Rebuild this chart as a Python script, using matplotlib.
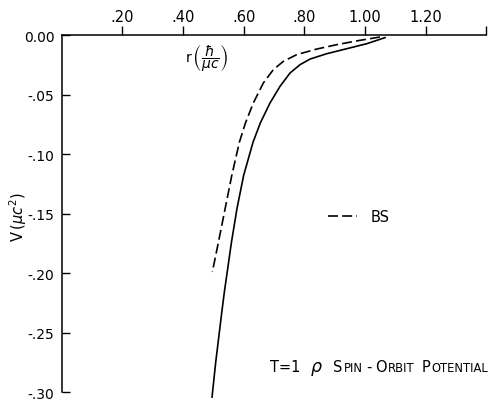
import numpy as np
import matplotlib
matplotlib.use('Agg')
import matplotlib.pyplot as plt

# curve values
solid_r = [1.066, 1.006, 0.940, 0.874, 0.819, 0.786, 0.753, 0.720, 0.687, 0.655,
           0.631, 0.600, 0.578, 0.560, 0.546, 0.537, 0.528, 0.508, 0.496]
solid_v = [-0.0022, -0.0073, -0.0115, -0.0157, -0.0202, -0.0249, -0.0319, -0.0431, -0.0571, -0.0739,
           -0.0901, -0.118, -0.146, -0.174, -0.199, -0.215, -0.233, -0.275, -0.304]

bs_r = [1.049, 0.983, 0.907, 0.841, 0.775, 0.731, 0.698, 0.665, 0.632, 0.606,
        0.586, 0.561, 0.539, 0.517, 0.497]
bs_v = [-0.0017, -0.0045, -0.0081, -0.0118, -0.0165, -0.0221, -0.0291, -0.0403, -0.0571, -0.0739,
        -0.0901, -0.118, -0.146, -0.174, -0.199]

x_ticks = [0.2, 0.4, 0.6, 0.8, 1.0, 1.2, 1.4]
x_labels = ['.20', '.40', '.60', '.80', '1.00', '1.20', '']
y_ticks = [0.0, -0.05, -0.10, -0.15, -0.20, -0.25, -0.30]
y_labels = ['0.00', '-.05', '-.10', '-.15', '-.20', '-.25', '-.30']

W, H = 492, 402
fig = plt.figure(figsize=(W / 100, H / 100), dpi=100)
ax = fig.add_axes([61.5 / W, 1 - 393.3 / H, (486.4 - 61.5) / W, (393.3 - 36) / H])

ax.plot(solid_r, solid_v, color='black', lw=1.2, clip_on=False)
ax.plot(bs_r, bs_v, color='black', lw=1.2, dashes=(6, 2.5), clip_on=False, label='BS')

ax.set_xlim(0, 1.4)
ax.set_ylim(-0.30, 0)

# axes on the left and top only
ax.spines['right'].set_visible(False)
ax.spines['bottom'].set_visible(False)
ax.spines['left'].set_linewidth(1.1)
ax.spines['top'].set_linewidth(1.1)

ax.xaxis.tick_top()
ax.set_xticks(x_ticks)
ax.set_xticklabels(x_labels)
ax.tick_params(axis='x', direction='out', length=6.5, width=1.0, pad=1.5, labelsize=10.5)
ax.set_yticks(y_ticks)
ax.set_yticklabels(y_labels)
ax.tick_params(axis='y', direction='in', length=6, width=1.0, pad=5, labelsize=10)

leg = ax.legend(loc='center left', bbox_to_anchor=(0.627, 0.491), frameon=False,
                fontsize=10.5, handlelength=2.0, handletextpad=0.9,
                borderpad=0, borderaxespad=0)

# axis labels
fig.text(185 / W, 1 - 59 / H, r'r$\,\left(\dfrac{\hbar}{\mu c}\right)$',
         fontsize=10, ha='left', va='center')
fig.text(18 / W, 1 - 217 / H, r'V$\,(\mu c^2)$', fontsize=10.5,
         rotation=90, ha='center', va='center')

# caption in small capitals, built piece by piece
pieces = [('T=1', 10.5, 0), (r'$\rho$', 12.5, 9), ('S', 10.5, 10), ('PIN', 8.3, 0.5),
          ('-', 10.5, 3), ('O', 10.5, 3), ('RBIT', 8.3, 0.5), ('P', 10.5, 7),
          ('OTENTIAL', 8.3, 0.5)]
fig.canvas.draw()
renderer = fig.canvas.get_renderer()
x = 270.0
for s, size, gap in pieces:
    x += gap
    t = fig.text(x / W, 1 - 372 / H, s, fontsize=size, ha='left', va='baseline')
    x = t.get_window_extent(renderer).x1 + 0.5

fig.savefig('out.png', dpi=100)
